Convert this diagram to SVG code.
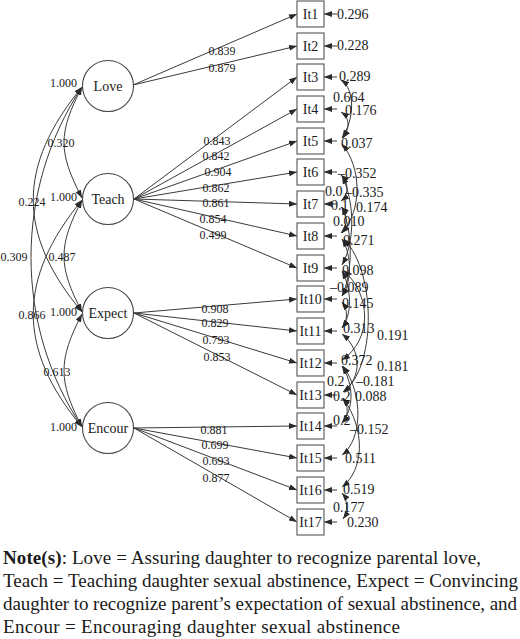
<svg xmlns="http://www.w3.org/2000/svg" width="520" height="639" viewBox="0 0 520 639" font-family="'Liberation Serif','Times New Roman',serif">
<style>
text{font-family:"Liberation Serif","Times New Roman",serif;fill:#1a1a1a}
.c{stroke:#444;stroke-width:1.1;fill:#fff}
.b{stroke:#555;stroke-width:1.1;fill:#fff}
.n{font-size:14px;text-anchor:middle}
.l{font-size:12px;text-anchor:middle}
.v{font-size:12px;text-anchor:end}
.r{font-size:14px}
.e{stroke:#3a3a3a;stroke-width:1;fill:none}
.note{font-size:19px}
</style>
<defs>
<marker id="ah" markerUnits="userSpaceOnUse" markerWidth="9" markerHeight="7" refX="8" refY="3" orient="auto-start-reverse">
<path d="M0,0 L8,3 L0,6 z" fill="#2a2a2a"/>
</marker>
</defs>

<g id="connectors">
<!-- loadings -->
<g class="e" marker-end="url(#ah)">
<line x1="133" y1="85" x2="297" y2="14"/>
<line x1="133" y1="85" x2="297" y2="46"/>
<line x1="134" y1="199" x2="297" y2="77"/>
<line x1="134" y1="199" x2="297" y2="109"/>
<line x1="134" y1="199" x2="297" y2="141"/>
<line x1="134" y1="199" x2="297" y2="172"/>
<line x1="134" y1="199" x2="297" y2="204"/>
<line x1="134" y1="199" x2="297" y2="236"/>
<line x1="134" y1="199" x2="297" y2="268"/>
<line x1="134" y1="313" x2="297" y2="299"/>
<line x1="134" y1="313" x2="297" y2="331"/>
<line x1="134" y1="313" x2="297" y2="363"/>
<line x1="134" y1="313" x2="297" y2="395"/>
<line x1="134" y1="428" x2="297" y2="426"/>
<line x1="134" y1="428" x2="297" y2="458"/>
<line x1="134" y1="428" x2="297" y2="490"/>
<line x1="134" y1="428" x2="297" y2="522"/>
</g>
<!-- residual arrows -->
<g class="e" marker-end="url(#ah)">
<line x1="337" y1="14" x2="324" y2="14"/>
<line x1="337" y1="46" x2="324" y2="46"/>
<line x1="337" y1="77" x2="324" y2="77"/>
<line x1="337" y1="109" x2="324" y2="109"/>
<line x1="337" y1="141" x2="324" y2="141"/>
<line x1="337" y1="172" x2="324" y2="172"/>
<line x1="337" y1="204" x2="324" y2="204"/>
<line x1="337" y1="236" x2="324" y2="236"/>
<line x1="337" y1="268" x2="324" y2="268"/>
<line x1="337" y1="299" x2="324" y2="299"/>
<line x1="337" y1="331" x2="324" y2="331"/>
<line x1="337" y1="363" x2="324" y2="363"/>
<line x1="337" y1="395" x2="324" y2="395"/>
<line x1="337" y1="426" x2="324" y2="426"/>
<line x1="337" y1="458" x2="324" y2="458"/>
<line x1="337" y1="490" x2="324" y2="490"/>
<line x1="337" y1="522" x2="324" y2="522"/>
</g>
<!-- factor correlations -->
<g class="e" marker-start="url(#ah)" marker-end="url(#ah)">
<path d="M82,87 C58,133 58,152 82,198"/>
<path d="M82,200 C58,246 58,266 82,312"/>
<path d="M82,314 C58,360 58,381 82,427"/>
<path d="M82,87 C17,166 17,234 82,312"/>
<path d="M82,200 C17,279 17,349 82,427"/>
<path d="M82,87 C14,190 14,325 82,427"/>
</g>
<!-- residual correlations -->
<g class="e" marker-start="url(#ah)" marker-end="url(#ah)">
<path d="M341,80 C356,90 354,120 342,138"/>
<path d="M341,112 C350,118 350,128 343,138"/>
<path d="M342,144 C362,168 362,210 342,233"/>
<path d="M341,175 C349,182 349,195 341,201"/>
<path d="M341,207 C348,214 348,226 341,233"/>
<path d="M342,176 C354,200 356,240 342,265"/>
<path d="M342,207 C354,235 352,275 342,296"/>
<path d="M342,239 C352,255 352,282 342,296"/>
<path d="M342,271 C352,290 352,315 342,328"/>
<path d="M342,302 C348,310 348,320 342,328"/>
<path d="M343,270 C372,295 372,340 342,360"/>
<path d="M344,239 C378,275 375,370 343,392"/>
<path d="M342,334 C362,350 362,378 343,392"/>
<path d="M342,366 C354,385 354,408 342,423"/>
<path d="M342,398 C349,405 349,416 342,423"/>
<path d="M343,366 C364,395 362,440 342,455"/>
<path d="M343,398 C366,430 364,470 342,487"/>
<path d="M342,493 C348,500 348,512 343,519"/>
</g>
<!-- loading labels -->
<g class="l">
<text x="222" y="55">0.839</text>
<text x="222" y="72">0.879</text>
<text x="217" y="145">0.843</text>
<text x="216" y="160">0.842</text>
<text x="218" y="176">0.904</text>
<text x="216" y="192">0.862</text>
<text x="216" y="207">0.861</text>
<text x="213" y="223">0.854</text>
<text x="213" y="239">0.499</text>
<text x="215" y="313">0.908</text>
<text x="215" y="327">0.829</text>
<text x="216" y="344">0.793</text>
<text x="217" y="361">0.853</text>
<text x="214" y="434">0.881</text>
<text x="215" y="449">0.699</text>
<text x="216" y="465">0.693</text>
<text x="216" y="482">0.877</text>
</g>
<!-- factor correlation labels -->
<g class="l">
<text x="61" y="147">0.320</text>
<text x="62" y="261">0.487</text>
<text x="57" y="376">0.613</text>
<text x="32" y="206">0.224</text>
<text x="32" y="319">0.866</text>
<text x="14" y="261">0.309</text>
</g>
<g class="v">
<text x="77" y="87">1.000</text>
<text x="77" y="201">1.000</text>
<text x="77" y="316">1.000</text>
<text x="77" y="431">1.000</text>
</g>
<!-- residual labels -->
<g class="r">
<text x="337" y="19">0.296</text>
<text x="337" y="50">0.228</text>
<text x="339" y="81">0.289</text>
<text x="333" y="102">0.664</text>
<text x="345" y="115">0.176</text>
<text x="341" y="148">0.037</text>
<text x="338" y="178">–0.352</text>
<text x="325" y="196">0.0</text>
<text x="345" y="197">–0.335</text>
<text x="331" y="210">0.1</text>
<text x="356" y="212">0.174</text>
<text x="333" y="226">0.010</text>
<text x="343" y="245">0.271</text>
<text x="342" y="275">0.098</text>
<text x="330" y="292">–0.089</text>
<text x="342" y="308">0.145</text>
<text x="343" y="333">0.313</text>
<text x="377" y="340">0.191</text>
<text x="341" y="365">0.372</text>
<text x="377" y="371">0.181</text>
<text x="327" y="386">0.2</text>
<text x="356" y="386">–0.181</text>
<text x="333" y="401">0.2</text>
<text x="355" y="401">0.088</text>
<text x="333" y="425">0.2</text>
<text x="350" y="434">–0.152</text>
<text x="345" y="463">0.511</text>
<text x="343" y="494">0.519</text>
<text x="333" y="512">0.177</text>
<text x="347" y="527">0.230</text>
</g>
</g>

<g id="love"><circle class="c" cx="108" cy="86" r="25.5"/><text class="n" x="108" y="91">Love</text></g>
<g id="teach"><circle class="c" cx="108" cy="199" r="25.5"/><text class="n" x="108" y="204">Teach</text></g>
<g id="expect"><circle class="c" cx="108" cy="313" r="25.5"/><text class="n" x="108" y="318">Expect</text></g>
<g id="encour"><circle class="c" cx="108" cy="428" r="25.5"/><text class="n" x="108" y="433">Encour</text></g>

<g id="it1"><rect class="b" x="297" y="1" width="27" height="26"/><text class="n" x="310.5" y="19">It1</text></g>
<g id="it2"><rect class="b" x="297" y="33" width="27" height="26"/><text class="n" x="310.5" y="51">It2</text></g>
<g id="it3"><rect class="b" x="297" y="64" width="27" height="26"/><text class="n" x="310.5" y="82">It3</text></g>
<g id="it4"><rect class="b" x="297" y="96" width="27" height="26"/><text class="n" x="310.5" y="114">It4</text></g>
<g id="it5"><rect class="b" x="297" y="128" width="27" height="26"/><text class="n" x="310.5" y="146">It5</text></g>
<g id="it6"><rect class="b" x="297" y="159" width="27" height="26"/><text class="n" x="310.5" y="177">It6</text></g>
<g id="it7"><rect class="b" x="297" y="191" width="27" height="26"/><text class="n" x="310.5" y="209">It7</text></g>
<g id="it8"><rect class="b" x="297" y="223" width="27" height="26"/><text class="n" x="310.5" y="241">It8</text></g>
<g id="it9"><rect class="b" x="297" y="255" width="27" height="26"/><text class="n" x="310.5" y="273">It9</text></g>
<g id="it10"><rect class="b" x="297" y="286" width="27" height="26"/><text class="n" x="310.5" y="304">It10</text></g>
<g id="it11"><rect class="b" x="297" y="318" width="27" height="26"/><text class="n" x="310.5" y="336">It11</text></g>
<g id="it12"><rect class="b" x="297" y="350" width="27" height="26"/><text class="n" x="310.5" y="368">It12</text></g>
<g id="it13"><rect class="b" x="297" y="382" width="27" height="26"/><text class="n" x="310.5" y="400">It13</text></g>
<g id="it14"><rect class="b" x="297" y="413" width="27" height="26"/><text class="n" x="310.5" y="431">It14</text></g>
<g id="it15"><rect class="b" x="297" y="445" width="27" height="26"/><text class="n" x="310.5" y="463">It15</text></g>
<g id="it16"><rect class="b" x="297" y="477" width="27" height="26"/><text class="n" x="310.5" y="495">It16</text></g>
<g id="it17"><rect class="b" x="297" y="509" width="27" height="26"/><text class="n" x="310.5" y="527">It17</text></g>

<g id="note" class="note">
<text x="3" y="564" textLength="478" lengthAdjust="spacing"><tspan font-weight="bold">Note(s)</tspan>: Love = Assuring daughter to recognize parental love,</text>
<text x="3" y="587" textLength="515" lengthAdjust="spacing">Teach = Teaching daughter sexual abstinence, Expect = Convincing</text>
<text x="3" y="610" textLength="514" lengthAdjust="spacing">daughter to recognize parent’s expectation of sexual abstinence, and</text>
<text x="3" y="633" textLength="397" lengthAdjust="spacing">Encour = Encouraging daughter sexual abstinence</text>
</g>
</svg>
